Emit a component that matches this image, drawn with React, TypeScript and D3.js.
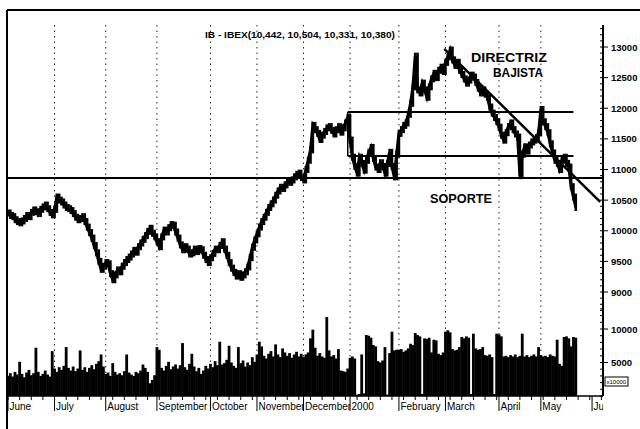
import React from 'react';
import * as d3 from 'd3';

// IBEX-35 daily chart, June 1999 - May 2000
const months = ['June', 'July', 'August', 'September', 'October', 'November', 'December', '2000', 'February', 'March', 'April', 'May', 'June'];
const monthStarts = [0, 20, 42, 64, 87, 107, 127, 147, 168, 188, 211, 229, 251];

const closes = [
  // Jun
  10290, 10250, 10230, 10180, 10150, 10130, 10160, 10200, 10250, 10230, 10300, 10340, 10310, 10280, 10350, 10390, 10420, 10360, 10300, 10260,
  // Jul
  10350, 10550, 10500, 10470, 10420, 10380, 10360, 10330, 10280, 10220, 10180, 10200, 10230, 10150, 10060, 9970, 9880, 9760, 9640, 9500, 9370, 9420,
  // Aug
  9480, 9460, 9300, 9200, 9280, 9360, 9330, 9420, 9480, 9530, 9570, 9620, 9680, 9650, 9740, 9800, 9860, 9920, 9990, 10040, 9960, 9900,
  // Sep
  9820, 9740, 9900, 10010, 9980, 10050, 10100, 10090, 9980, 9880, 9770, 9690, 9740, 9700, 9620, 9640, 9700, 9660, 9710, 9690, 9600, 9530, 9480,
  // Oct
  9560, 9630, 9700, 9690, 9760, 9820, 9700, 9600, 9480, 9390, 9320, 9260, 9300, 9240, 9280, 9330, 9410, 9560, 9730, 9850,
  // Nov
  9950, 10060, 10150, 10220, 10300, 10380, 10440, 10500, 10580, 10650, 10710, 10690, 10750, 10800, 10790, 10830, 10880, 10920, 10940, 10870,
  // Dec
  10830, 11000, 11150, 11320, 11720, 11650, 11590, 11490, 11560, 11620, 11680, 11700, 11640, 11580, 11650, 11700, 11610, 11680, 11760, 11850,
  // Jan
  11480, 11200, 11050, 10940, 11200, 11100, 10990, 11150, 11280, 11360, 11180, 11040, 11000, 11110, 11050, 10940, 11100, 11280, 11050, 10880, 11250,
  // Feb
  11590, 11650, 11720, 11760, 11900, 12080, 12350, 12850, 12300, 12250, 12410, 12300, 12180, 12350, 12480, 12570, 12500, 12620, 12670, 12600,
  // Mar
  12750, 12840, 12950, 12790, 12700, 12750, 12620, 12550, 12480, 12410, 12460, 12540, 12510, 12420, 12330, 12250, 12300, 12230, 12180, 12020, 11920, 11850, 11780,
  // Apr
  11690, 11560, 11480, 11600, 11700, 11760, 11650, 11580, 11530, 10900, 11250, 11370, 11300, 11400, 11450, 11480, 11520, 11600,
  // May
  11980, 11780, 11700, 11600, 11420, 11270, 11150, 11100, 11000, 11150, 11200, 11100, 11040, 10720, 10550, 10380,
];

const volumes = [
  // Jun
  3000, 3400, 2900, 3600, 3200, 5100, 3300, 2800, 3500, 3900, 3100, 3400, 7200, 3600, 3000, 3300, 3800, 3200, 2900, 6700,
  // Jul
  4100, 3600, 4300, 3900, 4500, 7300, 4200, 3800, 4400, 3700, 4100, 6800, 3900, 4300, 3600, 4200, 4600, 4000, 4800, 5200, 6200, 4400,
  // Aug
  3300, 3500, 3000, 4900, 3600, 3200, 3400, 3100, 3700, 6200, 3500, 3200, 3000, 3600, 3400, 3800, 4700, 4200, 3600, 1900, 2400, 3100,
  // Sep
  7300, 6900, 4200, 3800, 4500, 5100, 4000, 4400, 4700, 4100, 4600, 7900, 4300, 3900, 4800, 6300, 4400, 3700, 4200, 3300, 3800, 4500, 4100,
  // Oct
  4800, 4300, 5200, 4600, 8100, 4700, 4900, 5400, 7500, 5000, 4500, 4200, 7300, 4900, 5300, 4400, 5000, 4600, 5800, 5100,
  // Nov
  6200, 8100, 7400, 6000, 5600, 6300, 6700, 5900, 7700, 6200, 5800, 7100, 6500, 6000, 6400, 5700, 6200, 6600, 5900, 6300,
  // Dec
  5800, 6200, 6500, 8600, 9900, 7200, 6000, 6400, 5900, 5700, 11800, 6800, 5900, 6100, 5600, 7000, 3800, 3700, 3600, 4100,
  // Jan
  5700, 5900, 5600, 200, 300, 6200, 400, 9100, 9000, 8700, 7600, 7400, 5200, 5000, 5300, 7300, 200, 6400, 9600, 6800, 6900,
  // Feb
  6900, 7000, 6600, 6800, 7100, 7800, 7600, 9400, 9100, 8900, 300, 8600, 8500, 8700, 6500, 8400, 8300, 6300, 6100, 6500,
  // Mar
  9600, 9800, 9500, 7000, 6800, 6900, 7300, 8800, 8600, 8900, 8700, 300, 9300, 7100, 6900, 7000, 7300, 6100, 6000, 6200, 5800, 300, 9300,
  // Apr
  9200, 8900, 5900, 6000, 5800, 6100, 5900, 6200, 5800, 6000, 9300, 5900, 6100, 5800, 6000, 6200, 5900, 7300,
  // May
  6100, 5900, 6000, 5800, 6200, 6000, 5900, 8400, 4800, 4500, 8800, 8900, 8600, 7400, 8800, 8700,
];

const priceTicks = [9000, 9500, 10000, 10500, 11000, 11500, 12000, 12500, 13000];
const volumeTicks = [5000, 10000];

const soporte = 10860;
const upperLevel = 11940;
const middleLevel = 11220;
const rangeStart = 146;
const rangeEnd = 243;
const trendFrom = { i: 187.5, v: 12970 };
const trendTo = { i: 254.5, v: 10470 };

const title = 'IB - IBEX(10,442, 10,504, 10,331, 10,380)';

const W = 640;
const H = 429;
const font = "'Liberation Sans', Arial, sans-serif";

export default function App() {
  const x = d3.scaleLinear().domain([0, 255.7]).range([8, 603]);
  const yP = d3.scaleLinear().domain([9000, 13000]).range([292, 47]);
  const yV = d3.scaleLinear().domain([0, 10000]).range([396, 329]);
  const axisX = 603;
  const baseY = 396;

  const line = d3.line<number>().x((_, i) => x(i)).y(d => yP(d));

  const minorPrice = d3.range(8700, 13400, 100);
  const minorVol = d3.range(0, 13001, 1000);
  const weekTicks = d3.range(0, 256).filter(i => i % 5 === 0);

  return (
    <div style={{ position: 'absolute', left: 0, top: 0 }}>
      <svg width={W} height={H} style={{ display: 'block', background: '#fff' }} fontFamily={font}>
        <defs>
          {months.map((m, k) => {
            const x0 = x(monthStarts[k]);
            const x1 = k + 1 < monthStarts.length ? x(monthStarts[k + 1]) : axisX;
            return (
              <clipPath id={`mclip${k}`} key={m + k}>
                <rect x={x0} y={398} width={x1 - x0} height={20} />
              </clipPath>
            );
          })}
        </defs>

        {/* frame */}
        <line x1={7} x2={W} y1={10} y2={10} stroke="#000" strokeWidth={2} />
        <line x1={7} x2={7} y1={10} y2={H} stroke="#000" strokeWidth={2} />

        {/* dotted month grid */}
        {monthStarts.slice(1, 12).map(s => (
          <line key={'g' + s} x1={x(s)} x2={x(s)} y1={25} y2={baseY} stroke="#222" strokeWidth={1} strokeDasharray="1.5,4" />
        ))}

        {/* volume */}
        {volumes.map((v, i) => (
          <rect key={'v' + i} x={x(i) - 1.4} width={2.8} y={yV(v)} height={baseY - yV(v)} fill="#000" />
        ))}

        {/* price bars */}
        {closes.map((c, i) => {
          const p = i === 0 ? c : closes[i - 1];
          const top = yP(Math.max(p, c)) - 3.5;
          const bot = yP(Math.min(p, c)) + 3.5;
          return <rect key={'p' + i} x={x(i) - 1.3} width={2.6} y={top} height={bot - top} fill="#000" />;
        })}
        <path d={line(closes) || ''} fill="none" stroke="#000" strokeWidth={3} />

        {/* drawn study lines */}
        <line x1={7} x2={axisX} y1={yP(soporte)} y2={yP(soporte)} stroke="#000" strokeWidth={2} />
        <line x1={x(rangeStart)} x2={x(rangeEnd)} y1={yP(upperLevel)} y2={yP(upperLevel)} stroke="#000" strokeWidth={2} />
        <line x1={x(rangeStart)} x2={x(rangeEnd)} y1={yP(middleLevel)} y2={yP(middleLevel)} stroke="#000" strokeWidth={2} />
        <line x1={x(rangeStart)} x2={x(rangeStart)} y1={yP(upperLevel)} y2={yP(middleLevel)} stroke="#000" strokeWidth={1.5} />
        <line x1={x(trendFrom.i)} y1={yP(trendFrom.v)} x2={x(trendTo.i)} y2={yP(trendTo.v)} stroke="#000" strokeWidth={2.5} />

        {/* annotations */}
        <text x={205} y={38} fontSize={9} fontWeight="bold" textLength={190} lengthAdjust="spacingAndGlyphs">{title}</text>
        <text x={471} y={62} fontSize={12} fontWeight="bold" textLength={76} lengthAdjust="spacingAndGlyphs">DIRECTRIZ</text>
        <text x={493} y={77} fontSize={12} fontWeight="bold" textLength={50} lengthAdjust="spacingAndGlyphs">BAJISTA</text>
        <text x={430} y={203} fontSize={12} fontWeight="bold" textLength={62} lengthAdjust="spacingAndGlyphs">SOPORTE</text>

        {/* right axis */}
        <line x1={axisX} x2={axisX} y1={25} y2={baseY} stroke="#000" strokeWidth={2} />
        {minorPrice.map(v => (
          <line key={'mp' + v} x1={axisX - 3} x2={axisX} y1={yP(v)} y2={yP(v)} stroke="#000" strokeWidth={1} />
        ))}
        {priceTicks.map(v => (
          <g key={'tp' + v}>
            <line x1={axisX} x2={axisX + 5} y1={yP(v)} y2={yP(v)} stroke="#000" strokeWidth={1} />
            <text x={611} y={yP(v) + 3.5} fontSize={9.5} fontWeight="bold">{v}</text>
          </g>
        ))}
        {minorVol.filter(v => yV(v) > 300).map(v => (
          <line key={'mv' + v} x1={axisX - 3} x2={axisX} y1={yV(v)} y2={yV(v)} stroke="#000" strokeWidth={1} />
        ))}
        {volumeTicks.map(v => (
          <g key={'tv' + v}>
            <line x1={axisX} x2={axisX + 5} y1={yV(v)} y2={yV(v)} stroke="#000" strokeWidth={1} />
            <text x={611} y={yV(v) + 3.5} fontSize={9.5} fontWeight="bold">{v}</text>
          </g>
        ))}
        <rect x={605} y={377} width={23} height={9} fill="#fff" stroke="#000" strokeWidth={1} />
        <text x={606.5} y={384} fontSize={6}>x10000</text>

        {/* bottom axis */}
        <line x1={7} x2={axisX} y1={baseY} y2={baseY} stroke="#000" strokeWidth={1.5} />
        {weekTicks.map(i => (
          <line key={'w' + i} x1={x(i)} x2={x(i)} y1={baseY} y2={baseY + 4} stroke="#000" strokeWidth={1} />
        ))}
        {months.map((m, k) => (
          <g key={'m' + k}>
            <line x1={x(monthStarts[k])} x2={x(monthStarts[k])} y1={baseY} y2={411} stroke="#000" strokeWidth={1} />
            <text x={x(monthStarts[k]) + 1.5} y={410} fontSize={10} clipPath={`url(#mclip${k})`}>{k === 12 ? 'Ju' : m}</text>
          </g>
        ))}
      </svg>
    </div>
  );
}
